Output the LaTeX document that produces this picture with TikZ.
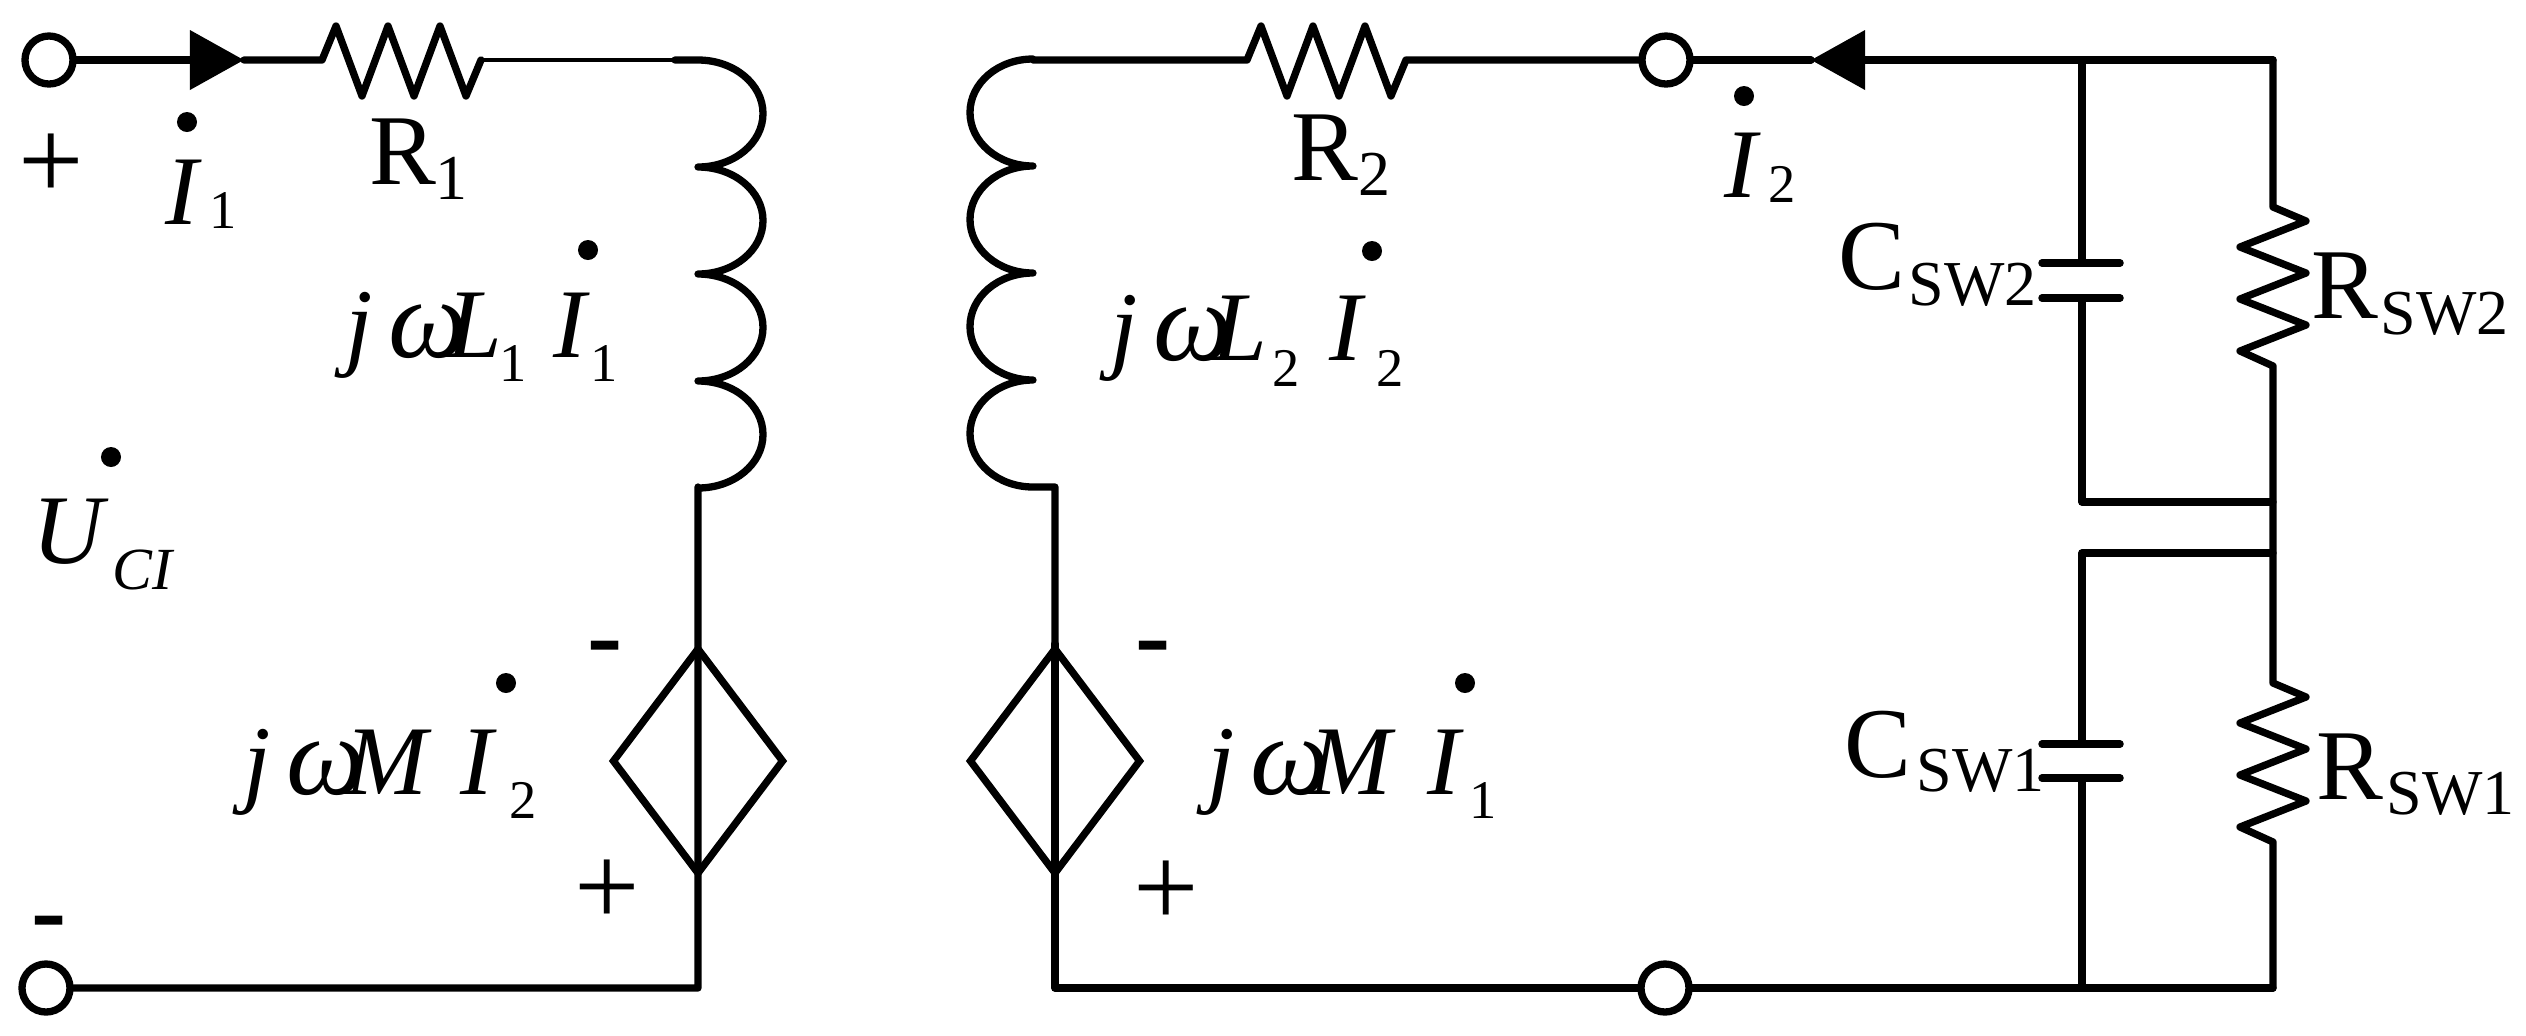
\documentclass[tikz,border=0pt]{standalone}
\usepackage{fontspec}
\setmainfont{Liberation Serif}
\usetikzlibrary{arrows.meta,shapes.geometric}
\newcommand{\zigH}{-- ++(14,-34) -- ++(26,70) -- ++(26,-70) -- ++(26,70) -- ++(26,-70) -- ++(26,70) -- ++(15,-36)}
\newcommand{\zigV}{-- ++(33,14) -- ++(-66,26) -- ++(66,26) -- ++(-66,26) -- ++(66,26) -- ++(-66,26) -- ++(33,15)}
\newcommand{\jw}[1]{\textit{j}\hspace{4.5pt}{\fontsize{32}{32}\selectfont\textit{ω}}\hspace{-6pt}\textit{#1}}
\tikzset{
  wire/.style={line width=0.073cm, line join=round, line cap=round},
  thinwire/.style={line width=0.047cm},
  plate/.style={line width=0.075cm, line cap=round},
  port/.style={circle, draw, fill=white, line width=0.073cm, minimum size=0.48cm, inner sep=0pt},
  source/.style={diamond, draw, line width=0.073cm, minimum width=1.72cm, minimum height=2.27cm, inner sep=0pt},
  phasor/.style={circle, fill=black, minimum size=0.2cm, inner sep=0pt},
  flow/.style={-{Triangle[length=0.54cm,width=0.58cm]}},
  coilR/.style={start angle=-90, end angle=90, x radius=65, y radius=53.5},
  coilL/.style={start angle=90, end angle=270, x radius=63, y radius=53.5},
  big/.style={font=\fontsize{28.5}{30}\selectfont, anchor=base west, inner sep=0pt},
  small/.style={font=\fontsize{18.2}{20}\selectfont, anchor=base west, inner sep=0pt},
  tiny/.style={font=\fontsize{15.5}{17}\selectfont, anchor=base west, inner sep=0pt},
  var/.style={font=\fontsize{28}{30}\selectfont\itshape, anchor=base west, inner sep=0pt},
  sign/.style={font=\fontsize{30}{30}\selectfont, anchor=base, inner sep=0pt},
  plus/.style={font=\fontsize{33}{33}\selectfont, anchor=base, inner sep=0pt}
}

\begin{document}
\begin{tikzpicture}[x=0.01cm, y=-0.01cm]
\useasboundingbox (0,0) rectangle (2526,1035);

% terminals and sources
\node [port] (t1) at (49,60) {};
\node [port] (t2) at (46,988) {};
\node [port] (t3) at (1666,60) {};
\node [port] (t4) at (1665,988) {};
\node [source] (srcL) at (698,761) {};
\node [source] (srcR) at (1055,761) {};

% junctions
\coordinate (i1tip) at (244,60);
\coordinate (r1a) at (322,60);
\coordinate (r1b) at (481,60);
\coordinate (l1a) at (675,60);
\coordinate (l1top) at (698,60);
\coordinate (l1end) at (698,487);
\coordinate (gndL) at (698,988);
\coordinate (l2top) at (1033,60);
\coordinate (l2end) at (1033,487);
\coordinate (l2low) at (1055,487);
\coordinate (gndR) at (1055,988);
\coordinate (r2a) at (1247,60);
\coordinate (i2tip) at (1811,60);
\coordinate (topC) at (2082,60);
\coordinate (topR) at (2273,60);
\coordinate (c2a) at (2082,263);
\coordinate (c2b) at (2082,298);
\coordinate (midC2) at (2082,502);
\coordinate (midR2) at (2273,502);
\coordinate (midC1) at (2082,553);
\coordinate (midR1) at (2273,553);
\coordinate (c1a) at (2082,744);
\coordinate (c1b) at (2082,778);
\coordinate (botC) at (2082,988);
\coordinate (botR) at (2273,988);
\coordinate (rs2a) at (2273,207);
\coordinate (rs1a) at (2273,683);

% left loop
\draw [wire, flow] (t1) -- (i1tip);
\draw [wire] (i1tip) -- (r1a) \zigH;
\draw [thinwire] (r1b) -- (l1a);
\draw [wire] (l1a) -- (l1top) arc[coilR] arc[coilR] arc[coilR] arc[coilR] -- (l1end) -- (srcL.north) -- (srcL.south) -- (gndL) -- (t2);

% right loop
\draw [wire] (srcR.north) -- (l2low) -- (l2end) arc[coilL] arc[coilL] arc[coilL] arc[coilL] -- (l2top) -- (r2a) \zigH -- (t3);
\draw [wire] (srcR.north) -- (srcR.south) -- (gndR) -- (t4) -- (botC) -- (botR);
\draw [wire, flow] (topR) -- (i2tip);
\draw [wire] (i2tip) -- (t3);

% switch branches
\draw [wire] (topC) -- (c2a);
\draw [wire] (c2b) -- (midC2) -- (midR2);
\draw [wire] (midR1) -- (midC1) -- (c1a);
\draw [wire] (c1b) -- (botC);
\draw [plate] (2042,263) -- (2120,263);
\draw [plate] (2042,298) -- (2120,298);
\draw [plate] (2042,744) -- (2120,744);
\draw [plate] (2042,778) -- (2120,778);
\draw [wire] (topR) -- (rs2a) \zigV -- (rs1a) \zigV -- (botR);

% labels
\node [plus] (plusT) at (51,199) {+};
\node [sign] (minusB) at (49,945) {\textbf{-}};
\node [sign] (minusL) at (605,670) {\textbf{-}};
\node [plus] (plusL) at (607,925) {+};
\node [sign] (minusR) at (1153,670) {\textbf{-}};
\node [plus] (plusR) at (1166,926) {+};

\node [phasor] (dotI1) at (187,122) {};
\node [var] (i1) at (165,224) {I};
\node [tiny] (i1sub) at (209,228) {1};
\node [big] (r1) at (369,184) {R};
\node [small] (r1sub) at (435,199) {1};

\node [var] (wl1) at (345,357) {\jw{L}};
\node [tiny] (wl1sub) at (499,381) {1};
\node [phasor] (dotL1) at (588,250) {};
\node [var] (il1) at (553,357) {I};
\node [tiny] (il1sub) at (590,381) {1};

\node [phasor] (dotU) at (111,457) {};
\node [var] (u) at (32,563) {U};
\node [font=\fontsize{17}{18}\selectfont\itshape, anchor=base west, inner sep=0pt] (usub) at (112,589) {CI};

\node [var] (wm2) at (243,794) {\jw{M}};
\node [phasor] (dotM2) at (506,683) {};
\node [var] (im2) at (460,794) {I};
\node [tiny] (im2sub) at (509,818) {2};

\node [big] (r2) at (1291,180) {R};
\node [small] (r2sub) at (1358,195) {2};
\node [phasor] (dotI2) at (1744,96) {};
\node [var] (i2) at (1724,197) {I};
\node [tiny] (i2sub) at (1768,202) {2};

\node [var] (wl2) at (1110,360) {\jw{L}};
\node [tiny] (wl2sub) at (1272,386) {2};
\node [phasor] (dotL2) at (1372,251) {};
\node [var] (il2) at (1329,360) {I};
\node [tiny] (il2sub) at (1376,386) {2};

\node [var] (wm1) at (1207,794) {\jw{M}};
\node [phasor] (dotM1) at (1465,683) {};
\node [var] (im1) at (1427,794) {I};
\node [tiny] (im1sub) at (1469,818) {1};

\node [big] (csw2) at (1838,289) {C};
\node [small] (csw2sub) at (1908,305) {SW2};
\node [big] (rsw2) at (2311,318) {R};
\node [small] (rsw2sub) at (2380,334) {SW2};
\node [big] (csw1) at (1844,777) {C};
\node [small] (csw1sub) at (1916,791) {SW1};
\node [big] (rsw1) at (2316,799) {R};
\node [small] (rsw1sub) at (2386,814) {SW1};
\end{tikzpicture}
\end{document}
